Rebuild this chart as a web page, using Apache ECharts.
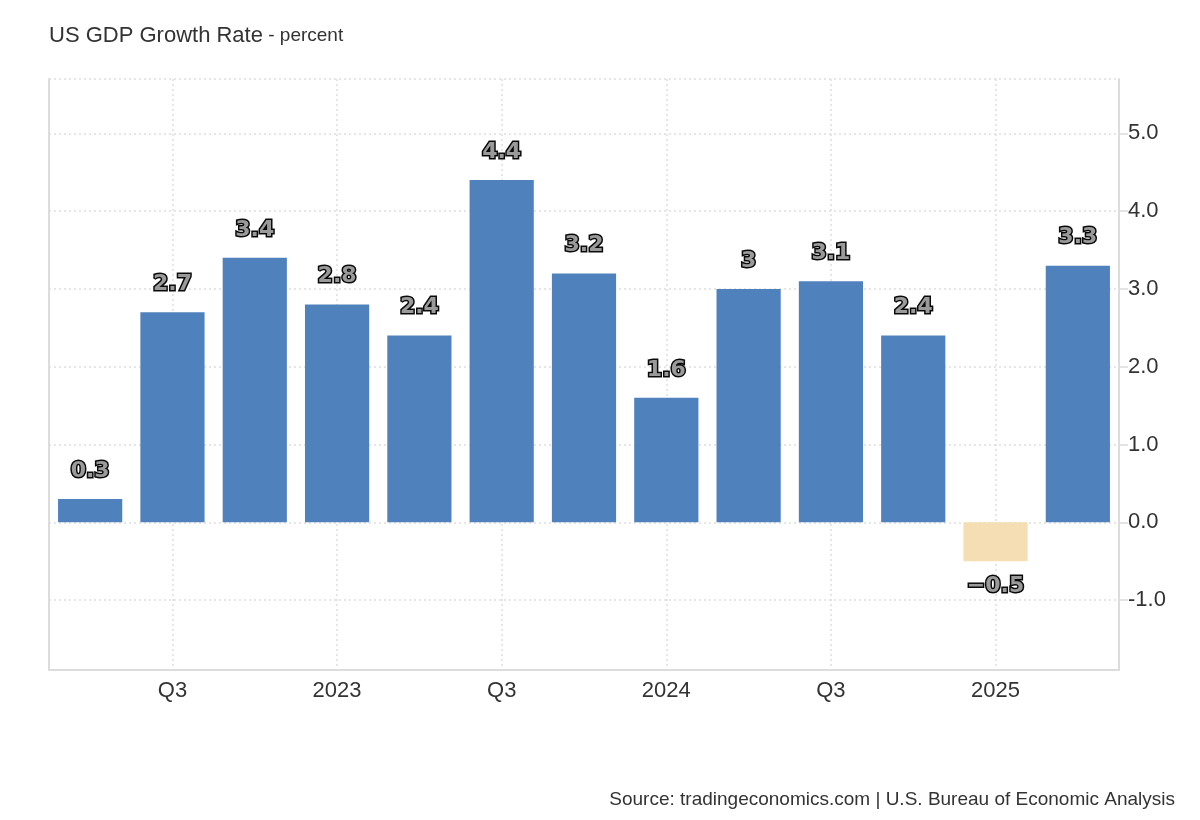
<!DOCTYPE html>
<html>
<head>
<meta charset="utf-8">
<script src="https://cdn.jsdelivr.net/npm/echarts@6/dist/echarts.min.js"></script>
<style>html,body{margin:0;padding:0;background:#fff;}#c{width:1200px;height:820px;}</style>
</head>
<body>
<div id="c"></div>
<script>
const categories = ['Q2 2022','Q3 2022','Q4 2022','Q1 2023','Q2 2023','Q3 2023','Q4 2023','Q1 2024','Q2 2024','Q3 2024','Q4 2024','Q1 2025','Q2 2025'];
const axisLabels = ['', 'Q3', '', '2023', '', 'Q3', '', '2024', '', 'Q3', '', '2025', ''];
const gdpGrowth = [0.3, 2.7, 3.4, 2.8, 2.4, 4.4, 3.2, 1.6, 3.0, 3.1, 2.4, -0.5, 3.3];
const yTicks = [-1, 0, 1, 2, 3, 4, 5];

const labelIdx = axisLabels.map((l, i) => l ? i : -1).filter(i => i >= 0);

const chart = echarts.init(document.getElementById('c'));
const labelStyle = {
  show: true,
  fontFamily: 'DejaVu Sans',
  fontWeight: 'bold',
  fontSize: 22,
  color: '#9a9a9a',
  textBorderColor: '#0a0a0a',
  textBorderWidth: 3,
  formatter: p => (p.value < 0 ? '\u2212' + Math.abs(p.value) : String(p.value))
};
const gridLine = { color: '#dedede', type: [2, 3], width: 1.5 };
const frameLine = { color: '#dcdcdc', width: 2 };
chart.setOption({
  animation: false,
  backgroundColor: '#fff',
  title: [{
    text: '{a|US GDP Growth Rate}{b| - percent}',
    left: 44, top: 20,
    textStyle: {
      rich: {
        a: { fontFamily: 'Liberation Sans', fontSize: 22, fontWeight: 'normal', color: '#333' },
        b: { fontFamily: 'Liberation Sans', fontSize: 19, fontWeight: 'normal', color: '#333' }
      }
    }
  }, {
    text: 'Source: tradingeconomics.com | U.S. Bureau of Economic Analysis',
    right: 20, top: 785,
    textStyle: { fontFamily: 'Liberation Sans', fontSize: 19, fontWeight: 'normal', color: '#333' }
  }],
  grid: { left: 49, right: 81, top: 79, bottom: 150, containLabel: false },
  xAxis: [{
    type: 'category',
    data: categories,
    axisLine: { show: true, onZero: false, lineStyle: frameLine },
    axisTick: { show: false },
    axisLabel: {
      interval: 0,
      formatter: (v, i) => axisLabels[i],
      fontFamily: 'Liberation Sans', fontSize: 22, color: '#333', margin: 10
    },
    splitLine: { show: false }
  }, {
    type: 'value',
    position: 'bottom',
    min: -0.5,
    max: categories.length - 0.5,
    axisLine: { show: false, onZero: false },
    axisTick: { show: false, customValues: labelIdx },
    axisLabel: { show: false, customValues: labelIdx },
    splitLine: { show: true, lineStyle: gridLine }
  }],
  yAxis: [{
    type: 'value',
    position: 'right',
    min: -1.9,
    max: 5.7,
    axisLine: { show: true, onZero: false, lineStyle: frameLine },
    axisTick: { show: true, length: 9, customValues: yTicks, lineStyle: { color: '#dcdcdc', width: 1.5 } },
    axisLabel: {
      customValues: yTicks,
      formatter: v => v.toFixed(1),
      fontFamily: 'Liberation Sans', fontSize: 22, color: '#333', margin: 9
    },
    splitLine: { show: true, lineStyle: gridLine }
  }, {
    type: 'value',
    position: 'left',
    min: -1.9,
    max: 5.7,
    axisLine: { show: true, onZero: false, lineStyle: frameLine },
    axisTick: { show: false },
    axisLabel: { show: false },
    splitLine: { show: false }
  }],
  series: [{
    type: 'bar',
    xAxisIndex: 0,
    yAxisIndex: 0,
    data: gdpGrowth.map(v => ({
      value: v,
      itemStyle: { color: v < 0 ? '#f5deb3' : '#4f81bd' },
      label: Object.assign({}, labelStyle, { position: v < 0 ? 'bottom' : 'top', distance: v < 0 ? 14 : 17 })
    })),
    barWidth: '78%',
    markLine: {
      silent: true, symbol: 'none', label: { show: false },
      lineStyle: gridLine,
      data: [{ yAxis: 5.7 }]
    }
  }]
});
</script>
</body>
</html>
